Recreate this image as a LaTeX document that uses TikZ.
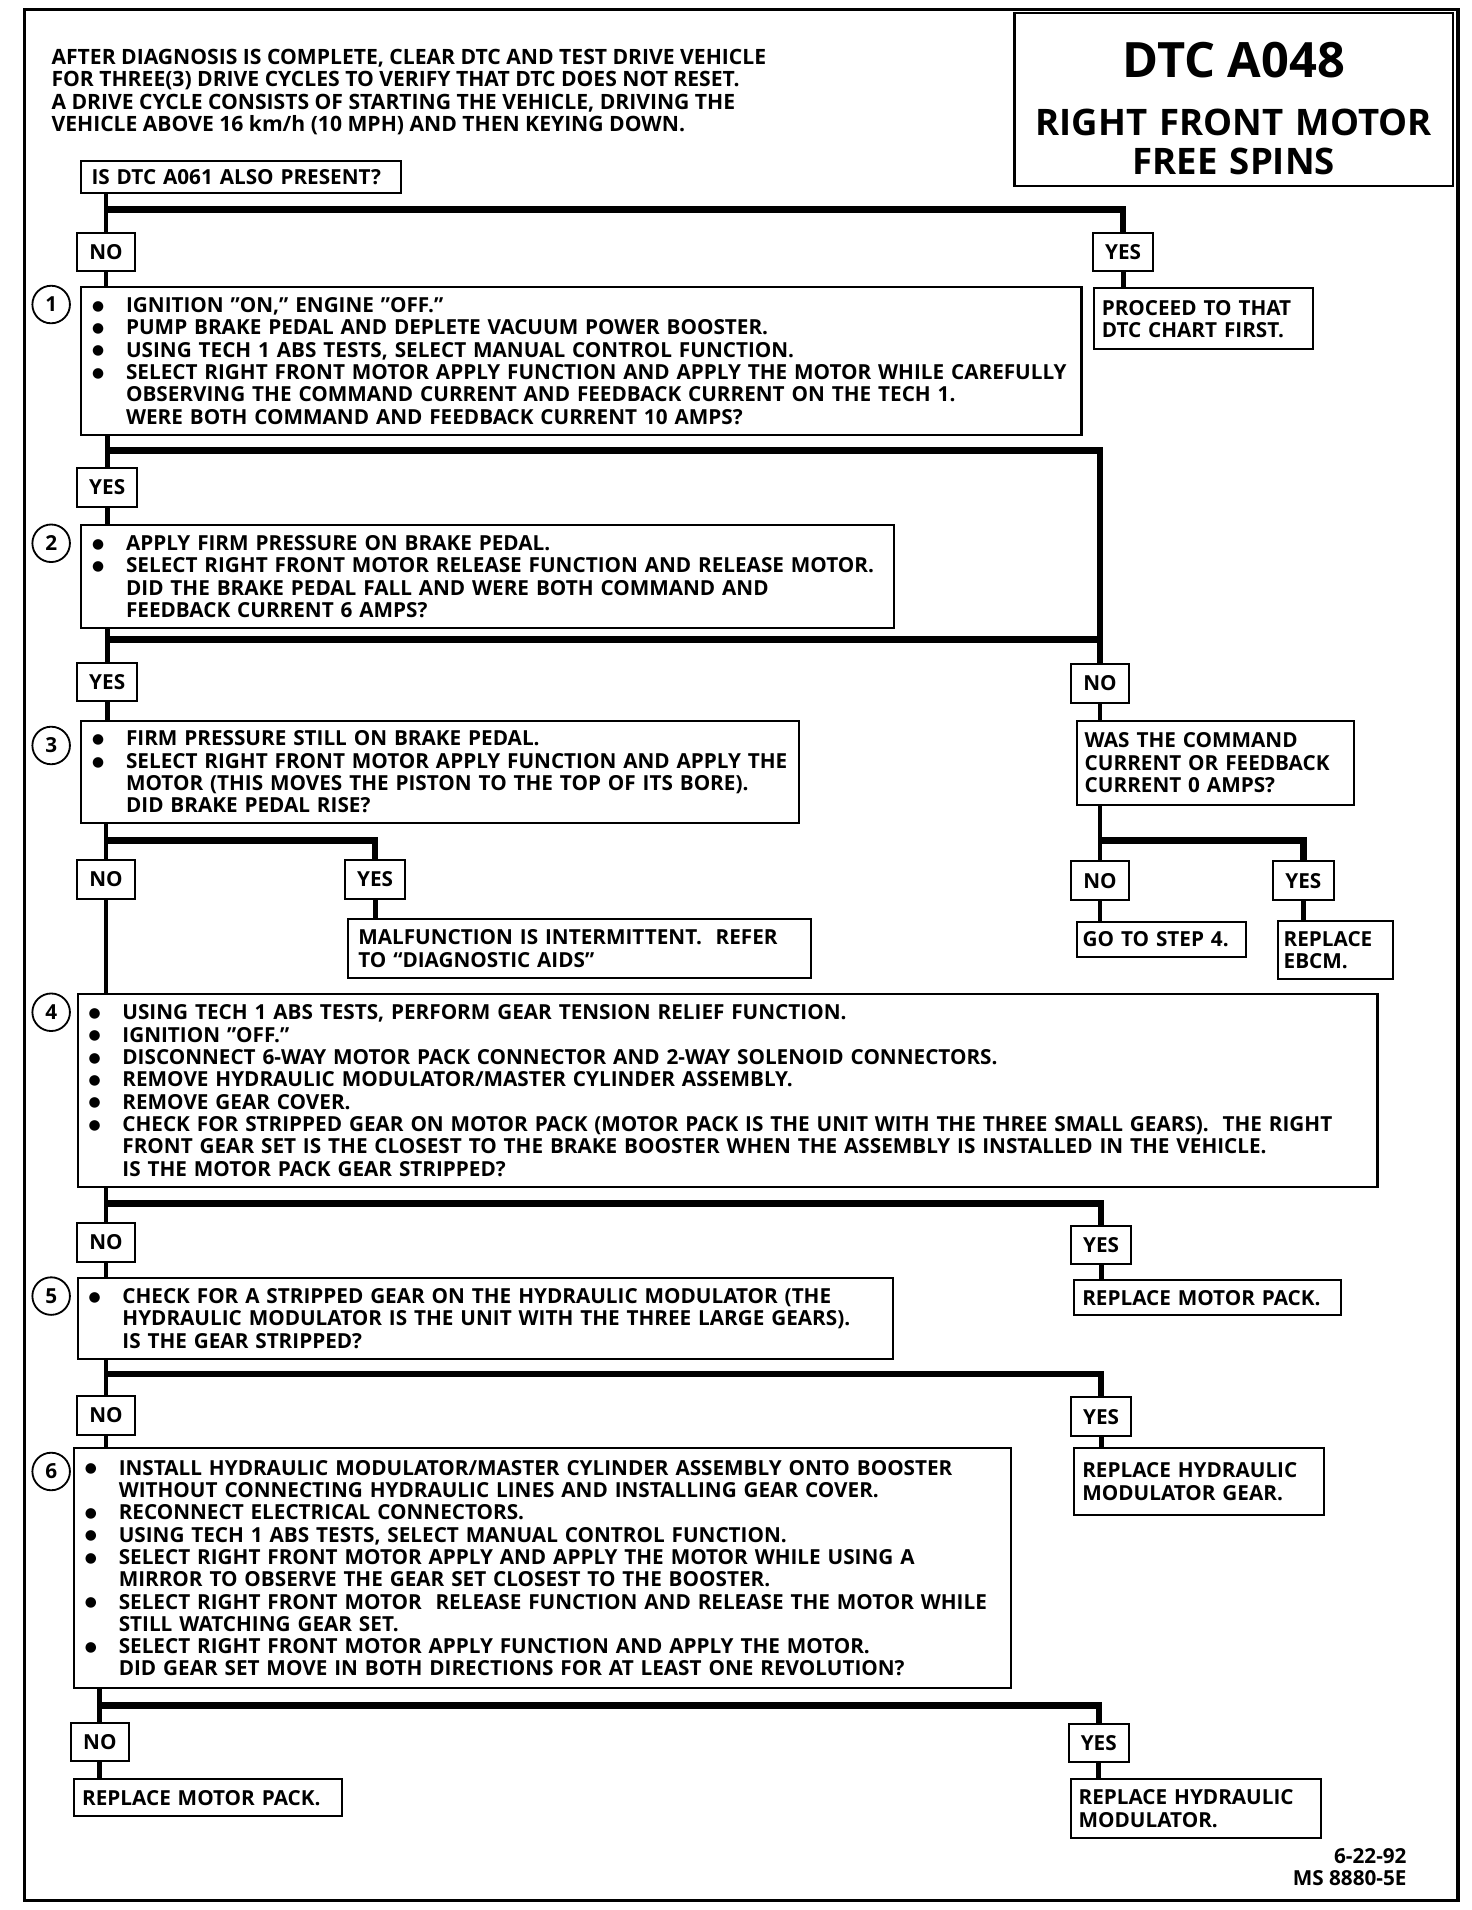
\documentclass[tikz,border=0pt]{standalone}
\usepackage{fontspec}
\setmainfont{Open Sans}
\newfontfamily\dotfont{DejaVu Sans}
\newcommand{\bl}{\makebox[17pt][l]{\kern0.3pt\raisebox{1.1pt}{\dotfont\fontsize{6.8}{6.8}\selectfont ●}}}
\newcommand{\cn}{\hspace*{17pt}}
\begin{document}
\begin{tikzpicture}[x=0.6pt, y=-0.6pt,
  font=\fontsize{10.2}{11}\selectfont\bfseries,
  box/.style={draw, line width=1pt, anchor=north west, align=left, inner xsep=5pt, inner ysep=2pt},
  ans/.style={draw, line width=1pt, minimum height=19pt, inner xsep=6pt},
  num/.style={draw, circle, line width=0.9pt, minimum size=18.5pt, inner sep=0pt},
  bar/.style={line width=3.2pt},
  link/.style={line width=2.4pt}]
\useasboundingbox (0,0) rectangle (1208,1568);
\draw[line width=1.6pt] (20,8) rectangle (1197,1560);
\node[draw, line width=1pt, anchor=north west, minimum width=216pt, minimum height=85.2pt, text width=208pt, text height=26pt, align=center, font=\fontsize{18}{19.2}\selectfont\bfseries] (title) at (832,10) {{\fontsize{24}{19.2}\selectfont DTC A048}\\[9.6pt]RIGHT FRONT MOTOR\\FREE SPINS};
\node[anchor=north west, align=left, inner sep=0pt, font=\fontsize{10.4}{11}\selectfont\bfseries] (intro) at (42,40) {AFTER DIAGNOSIS IS COMPLETE, CLEAR DTC AND TEST DRIVE VEHICLE\\FOR THREE(3) DRIVE CYCLES TO VERIFY THAT DTC DOES NOT RESET.\\A DRIVE CYCLE CONSISTS OF STARTING THE VEHICLE, DRIVING THE\\VEHICLE ABOVE 16 km/h (10 MPH) AND THEN KEYING DOWN.};
\node[box, text width=147.2pt, minimum height=16.2pt] (q0) at (66,131) {IS DTC A061 ALSO PRESENT?};
\node[ans] (no0) at (87,207) {NO};
\node[ans] (yes0) at (922,207) {YES};
\node[box, inner xsep=4pt, text width=100pt, minimum height=30pt] (proceed) at (897,236) {PROCEED TO THAT\\DTC CHART FIRST.};
\node[num] (n1) at (42,250) {1};
\node[box, text width=482.6pt, minimum height=72.6pt] (step1) at (66,235) {\bl IGNITION ”ON,” ENGINE ”OFF.”\\\bl PUMP BRAKE PEDAL AND DEPLETE VACUUM POWER BOOSTER.\\\bl USING TECH 1 ABS TESTS, SELECT MANUAL CONTROL FUNCTION.\\\bl SELECT RIGHT FRONT MOTOR APPLY FUNCTION AND APPLY THE MOTOR WHILE CAREFULLY\\\cn OBSERVING THE COMMAND CURRENT AND FEEDBACK CURRENT ON THE TECH 1.\\\cn WERE BOTH COMMAND AND FEEDBACK CURRENT 10 AMPS?};
\node[ans] (yes1) at (88,400) {YES};
\node[num] (n2) at (42,446) {2};
\node[box, text width=390.2pt, minimum height=51pt] (step2) at (66,430) {\bl APPLY FIRM PRESSURE ON BRAKE PEDAL.\\\bl SELECT RIGHT FRONT MOTOR RELEASE FUNCTION AND RELEASE MOTOR.\\\cn DID THE BRAKE PEDAL FALL AND WERE BOTH COMMAND AND\\\cn FEEDBACK CURRENT 6 AMPS?};
\node[ans] (yes2) at (88,560) {YES};
\node[ans] (no2) at (903,561) {NO};
\node[num] (n3) at (42,612) {3};
\node[box, text width=343.4pt, minimum height=50.4pt] (step3) at (66,591) {\bl FIRM PRESSURE STILL ON BRAKE PEDAL.\\\bl SELECT RIGHT FRONT MOTOR APPLY FUNCTION AND APPLY THE\\\cn MOTOR (THIS MOVES THE PISTON TO THE TOP OF ITS BORE).\\\cn DID BRAKE PEDAL RISE?};
\node[box, inner xsep=4pt, text width=128.8pt, minimum height=41.4pt] (cur) at (883,591) {WAS THE COMMAND\\CURRENT OR FEEDBACK\\CURRENT 0 AMPS?};
\node[ans] (no3) at (87,722) {NO};
\node[ans] (yes3) at (308,722) {YES};
\node[ans] (nocur) at (903,723) {NO};
\node[ans] (yescur) at (1070,723) {YES};
\node[box, text width=218pt, minimum height=28.8pt] (malf) at (285,754) {MALFUNCTION IS INTERMITTENT.\ \ REFER\\TO “DIAGNOSTIC AIDS”};
\node[box, inner xsep=3pt, text width=77.4pt, minimum height=17.4pt] (gostep) at (883,756) {GO TO STEP 4.};
\node[box, inner xsep=3pt, text width=51pt, minimum height=28.8pt] (ebcm) at (1048,755) {REPLACE\\EBCM.};
\node[num] (n4) at (42,831) {4};
\node[box, text width=630.2pt, minimum height=95.4pt] (step4) at (63,815) {\bl USING TECH 1 ABS TESTS, PERFORM GEAR TENSION RELIEF FUNCTION.\\\bl IGNITION ”OFF.”\\\bl DISCONNECT 6-WAY MOTOR PACK CONNECTOR AND 2-WAY SOLENOID CONNECTORS.\\\bl REMOVE HYDRAULIC MODULATOR/MASTER CYLINDER ASSEMBLY.\\\bl REMOVE GEAR COVER.\\\bl CHECK FOR STRIPPED GEAR ON MOTOR PACK (MOTOR PACK IS THE UNIT WITH THE THREE SMALL GEARS).\ \ THE RIGHT\\\cn FRONT GEAR SET IS THE CLOSEST TO THE BRAKE BOOSTER WHEN THE ASSEMBLY IS INSTALLED IN THE VEHICLE.\\\cn IS THE MOTOR PACK GEAR STRIPPED?};
\node[ans] (no4) at (87,1020) {NO};
\node[ans] (yes4) at (904,1022) {YES};
\node[box, inner xsep=4pt, text width=123.4pt, minimum height=17.4pt] (motorpack) at (881,1050) {REPLACE MOTOR PACK.};
\node[num] (n5) at (42,1064) {5};
\node[box, text width=391.4pt, minimum height=40.2pt] (step5) at (63,1048) {\bl CHECK FOR A STRIPPED GEAR ON THE HYDRAULIC MODULATOR (THE\\\cn HYDRAULIC MODULATOR IS THE UNIT WITH THE THREE LARGE GEARS).\\\cn IS THE GEAR STRIPPED?};
\node[ans] (no5) at (87,1162) {NO};
\node[ans] (yes5) at (904,1163) {YES};
\node[box, inner xsep=4pt, text width=115pt, minimum height=33pt] (modgear) at (881,1188) {REPLACE HYDRAULIC\\MODULATOR GEAR.};
\node[num] (n6) at (42,1208) {6};
\node[box, text width=451.4pt, minimum height=118.2pt] (step6) at (60,1188) {\bl INSTALL HYDRAULIC MODULATOR/MASTER CYLINDER ASSEMBLY ONTO BOOSTER\\\cn WITHOUT CONNECTING HYDRAULIC LINES AND INSTALLING GEAR COVER.\\\bl RECONNECT ELECTRICAL CONNECTORS.\\\bl USING TECH 1 ABS TESTS, SELECT MANUAL CONTROL FUNCTION.\\\bl SELECT RIGHT FRONT MOTOR APPLY AND APPLY THE MOTOR WHILE USING A\\\cn MIRROR TO OBSERVE THE GEAR SET CLOSEST TO THE BOOSTER.\\\bl SELECT RIGHT FRONT MOTOR\ \ RELEASE FUNCTION AND RELEASE THE MOTOR WHILE\\\cn STILL WATCHING GEAR SET.\\\bl SELECT RIGHT FRONT MOTOR APPLY FUNCTION AND APPLY THE MOTOR.\\\cn DID GEAR SET MOVE IN BOTH DIRECTIONS FOR AT LEAST ONE REVOLUTION?};
\node[ans] (no6) at (82,1430) {NO};
\node[ans] (yes6) at (902,1431) {YES};
\node[box, inner xsep=4pt, text width=124pt, minimum height=18pt] (motorpack2) at (60,1460) {REPLACE MOTOR PACK.};
\node[box, inner xsep=4pt, text width=115.6pt, minimum height=28.8pt] (modulator) at (878,1460) {REPLACE HYDRAULIC\\MODULATOR.};
\node[anchor=north east, align=right, inner sep=0pt] (code) at (1155,1517) {6-22-92\\MS 8880-5E};
\coordinate (b0) at (922,172);
\coordinate (b1) at (903,370);
\coordinate (b2) at (903,525);
\coordinate (b3) at (308,690);
\coordinate (b4) at (1070,690);
\coordinate (b5) at (904,988);
\coordinate (b6) at (904,1128);
\coordinate (b7) at (902,1400);
\draw[link] (q0.south -| no0) -- (no0.north);
\draw[bar] (no0 |- b0) -- (b0) -- (yes0.north);
\draw[link] (no0.south) -- (no0 |- step1.north);
\draw[link] (yes0.south) -- (yes0 |- proceed.north);
\draw[link] (step1.south -| yes1) -- (yes1.north);
\draw[bar] (yes1 |- b1) -- (b1) -- (no2.north);
\draw[link] (yes1.south) -- (yes1 |- step2.north);
\draw[link] (step2.south -| yes2) -- (yes2.north);
\draw[bar] (yes2 |- b2) -- (b2);
\draw[link] (yes2.south) -- (yes2 |- step3.north);
\draw[link] (no2.south) -- (no2 |- cur.north);
\draw[link] (step3.south -| no3) -- (no3.north);
\draw[bar] (no3 |- b3) -- (b3) -- (yes3.north);
\draw[link] (no3.south) -- (no3 |- step4.north);
\draw[link] (yes3.south) -- (yes3 |- malf.north);
\draw[link] (cur.south -| nocur) -- (nocur.north);
\draw[bar] (nocur |- b4) -- (b4) -- (yescur.north);
\draw[link] (nocur.south) -- (nocur |- gostep.north);
\draw[link] (yescur.south) -- (yescur |- ebcm.north);
\draw[link] (step4.south -| no4) -- (no4.north);
\draw[bar] (no4 |- b5) -- (b5) -- (yes4.north);
\draw[link] (no4.south) -- (no4 |- step5.north);
\draw[link] (yes4.south) -- (yes4 |- motorpack.north);
\draw[link] (step5.south -| no5) -- (no5.north);
\draw[bar] (no5 |- b6) -- (b6) -- (yes5.north);
\draw[link] (no5.south) -- (no5 |- step6.north);
\draw[link] (yes5.south) -- (yes5 |- modgear.north);
\draw[link] (step6.south -| no6) -- (no6.north);
\draw[bar] (no6 |- b7) -- (b7) -- (yes6.north);
\draw[link] (no6.south) -- (no6 |- motorpack2.north);
\draw[link] (yes6.south) -- (yes6 |- modulator.north);
\end{tikzpicture}
\end{document}
